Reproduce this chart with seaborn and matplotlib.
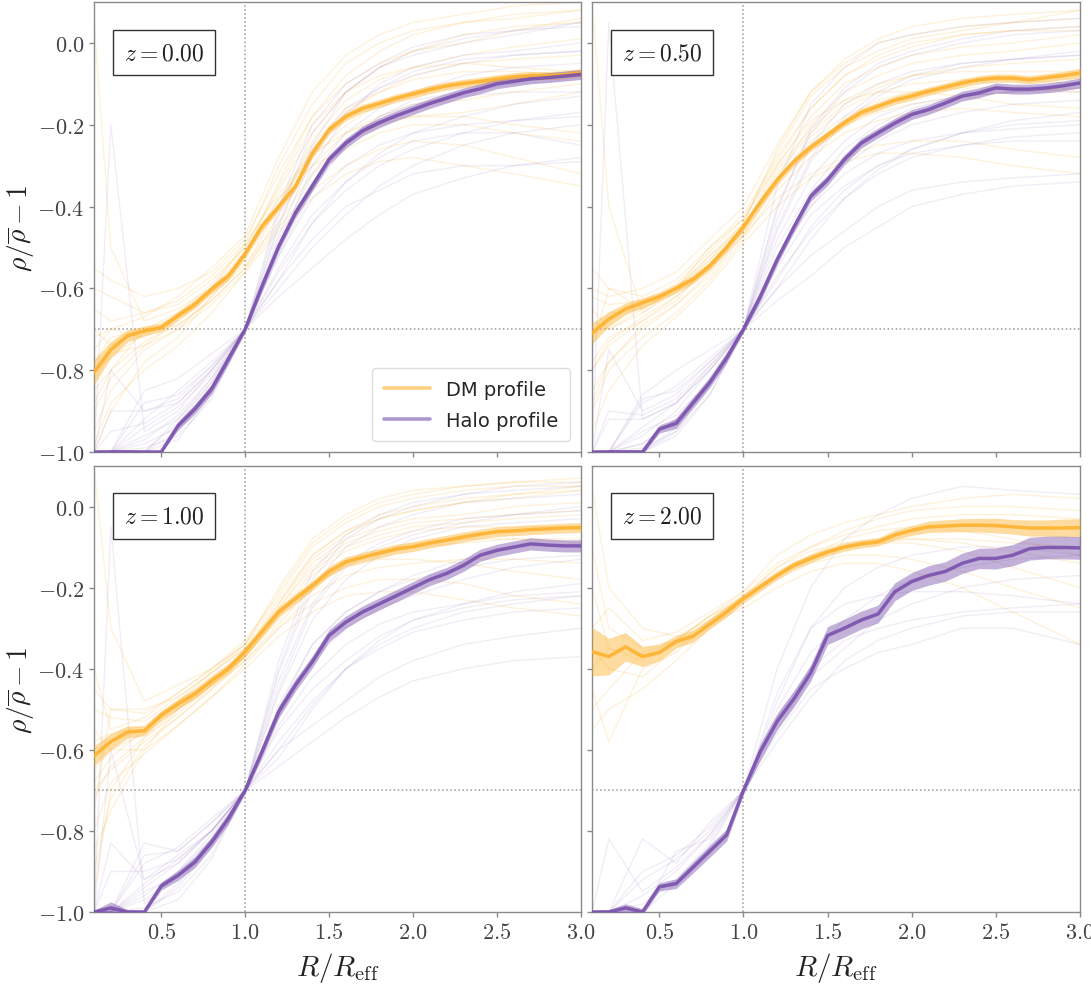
import numpy as np
import pandas as pd
import matplotlib
matplotlib.use("Agg")
import matplotlib.pyplot as plt
import seaborn as sns
from matplotlib.ticker import FuncFormatter, MultipleLocator
from matplotlib.lines import Line2D

# ---------------- data ----------------
R_GRID = [0.1, 0.2, 0.3, 0.4, 0.5, 0.6, 0.7, 0.8, 0.9, 1.0,
          1.1, 1.2, 1.3, 1.4, 1.5, 1.6, 1.7, 1.8, 1.9, 2.0,
          2.1, 2.2, 2.3, 2.4, 2.5, 2.6, 2.7, 2.8, 2.9, 3.0]
R_IND = [0.1, 0.2, 0.4, 0.6, 0.8, 1.0, 1.2, 1.4, 1.6, 1.8, 2.0, 2.3, 2.6, 3.0]
REDSHIFT_LABELS = ["0.00", "0.50", "1.00", "2.00"]
SERIES_NAMES = ["DM profile", "Halo profile"]

DM_MEAN_Z0 = [-0.805, -0.75, -0.716, -0.704, -0.696, -0.667, -0.639, -0.602, -0.57, -0.515,
              -0.448, -0.40, -0.35, -0.27, -0.212, -0.18, -0.16, -0.148, -0.135, -0.125,
              -0.114, -0.105, -0.099, -0.094, -0.088, -0.083, -0.08, -0.08, -0.078, -0.073]
HALO_MEAN_Z0 = [-1.0, -1.0, -1.0, -1.0, -1.0, -0.936, -0.895, -0.846, -0.773, -0.70,
                -0.595, -0.497, -0.415, -0.35, -0.285, -0.245, -0.215, -0.195, -0.178, -0.163,
                -0.148, -0.135, -0.122, -0.112, -0.10, -0.094, -0.088, -0.085, -0.081, -0.077]
DM_MEAN_Z05 = [-0.71, -0.675, -0.65, -0.635, -0.62, -0.60, -0.578, -0.545, -0.50, -0.449,
               -0.39, -0.335, -0.29, -0.255, -0.225, -0.195, -0.17, -0.155, -0.14, -0.13,
               -0.118, -0.108, -0.098, -0.09, -0.086, -0.086, -0.09, -0.085, -0.08, -0.074]
HALO_MEAN_Z05 = [-1.0, -1.0, -1.0, -1.0, -0.944, -0.93, -0.88, -0.83, -0.77, -0.70,
                 -0.62, -0.53, -0.45, -0.375, -0.335, -0.285, -0.245, -0.22, -0.196, -0.175,
                 -0.163, -0.147, -0.13, -0.122, -0.11, -0.113, -0.113, -0.11, -0.105, -0.098]
DM_MEAN_Z1 = [-0.615, -0.58, -0.556, -0.553, -0.515, -0.487, -0.462, -0.43, -0.40, -0.358,
              -0.309, -0.26, -0.227, -0.195, -0.16, -0.136, -0.125, -0.115, -0.105, -0.099,
              -0.09, -0.083, -0.075, -0.068, -0.062, -0.06, -0.057, -0.055, -0.053, -0.052]
HALO_MEAN_Z1 = [-1.0, -0.99, -1.0, -1.0, -0.936, -0.91, -0.877, -0.828, -0.77, -0.70,
                -0.605, -0.506, -0.44, -0.383, -0.318, -0.285, -0.26, -0.24, -0.22, -0.20,
                -0.18, -0.165, -0.145, -0.12, -0.108, -0.10, -0.092, -0.095, -0.097, -0.097]
DM_MEAN_Z2 = [-0.358, -0.37, -0.346, -0.37, -0.36, -0.333, -0.32, -0.29, -0.26, -0.227,
              -0.198, -0.17, -0.145, -0.128, -0.112, -0.10, -0.092, -0.087, -0.07, -0.059,
              -0.05, -0.048, -0.046, -0.046, -0.047, -0.05, -0.053, -0.053, -0.053, -0.052]
HALO_MEAN_Z2 = [-1.0, -1.0, -0.99, -1.0, -0.938, -0.93, -0.89, -0.85, -0.81, -0.70,
                -0.605, -0.53, -0.474, -0.41, -0.318, -0.30, -0.28, -0.265, -0.21, -0.185,
                -0.17, -0.16, -0.14, -0.128, -0.128, -0.12, -0.104, -0.101, -0.101, -0.102]

DM_ERR_Z0 = [0.03, 0.02, 0.015, 0.012, 0.01, 0.01, 0.01, 0.01, 0.01, 0.01,
             0.01, 0.01, 0.01, 0.01, 0.01, 0.01, 0.01, 0.01, 0.01, 0.01,
             0.01, 0.01, 0.01, 0.01, 0.01, 0.01, 0.01, 0.01, 0.01, 0.01]
HALO_ERR_Z0 = [0.004, 0.006, 0.006, 0.004, 0.004, 0.01, 0.012, 0.012, 0.012, 0.008,
               0.012, 0.012, 0.012, 0.012, 0.012, 0.012, 0.012, 0.012, 0.012, 0.012,
               0.012, 0.012, 0.012, 0.012, 0.012, 0.012, 0.012, 0.012, 0.012, 0.012]
DM_ERR_Z05 = [0.025, 0.018, 0.014, 0.012, 0.01, 0.01, 0.01, 0.01, 0.01, 0.01,
              0.01, 0.01, 0.01, 0.01, 0.01, 0.01, 0.01, 0.01, 0.01, 0.01,
              0.01, 0.01, 0.01, 0.01, 0.01, 0.01, 0.01, 0.01, 0.01, 0.012]
HALO_ERR_Z05 = [0.004, 0.006, 0.006, 0.006, 0.01, 0.012, 0.012, 0.012, 0.012, 0.008,
                0.012, 0.012, 0.012, 0.012, 0.012, 0.012, 0.012, 0.012, 0.012, 0.012,
                0.012, 0.012, 0.012, 0.012, 0.012, 0.012, 0.012, 0.012, 0.012, 0.012]
DM_ERR_Z1 = [0.025, 0.02, 0.015, 0.012, 0.012, 0.012, 0.012, 0.012, 0.012, 0.012,
             0.012, 0.012, 0.012, 0.012, 0.012, 0.012, 0.012, 0.012, 0.012, 0.012,
             0.012, 0.012, 0.012, 0.012, 0.012, 0.012, 0.012, 0.012, 0.012, 0.012]
HALO_ERR_Z1 = [0.004, 0.015, 0.006, 0.004, 0.01, 0.012, 0.013, 0.013, 0.013, 0.008,
               0.013, 0.015, 0.015, 0.015, 0.015, 0.015, 0.015, 0.015, 0.015, 0.015,
               0.015, 0.015, 0.015, 0.015, 0.015, 0.015, 0.015, 0.015, 0.015, 0.015]
DM_ERR_Z2 = [0.06, 0.045, 0.035, 0.025, 0.02, 0.015, 0.015, 0.012, 0.012, 0.01,
             0.01, 0.01, 0.01, 0.01, 0.01, 0.01, 0.01, 0.01, 0.012, 0.012,
             0.014, 0.015, 0.016, 0.017, 0.018, 0.018, 0.02, 0.02, 0.022, 0.022]
HALO_ERR_Z2 = [0.004, 0.006, 0.01, 0.008, 0.01, 0.012, 0.014, 0.015, 0.015, 0.01,
               0.02, 0.02, 0.02, 0.02, 0.022, 0.022, 0.022, 0.022, 0.022, 0.022,
               0.024, 0.024, 0.025, 0.025, 0.026, 0.026, 0.028, 0.028, 0.028, 0.028]

# individual profiles (sampled at R_IND)
DM_IND_Z0 = [
    [-0.60, -0.62, -0.66, -0.64, -0.58, -0.50, -0.36, -0.22, -0.12, -0.06, -0.02, 0.02, 0.04, 0.05],
    [-0.95, -0.85, -0.75, -0.70, -0.64, -0.56, -0.42, -0.30, -0.22, -0.18, -0.15, -0.14, -0.12, -0.10],
    [-0.75, -0.70, -0.72, -0.66, -0.60, -0.52, -0.34, -0.18, -0.10, -0.05, -0.02, 0.00, 0.03, 0.06],
    [-0.85, -0.80, -0.70, -0.69, -0.63, -0.55, -0.45, -0.36, -0.30, -0.26, -0.24, -0.25, -0.28, -0.32],
    [-1.00, -0.90, -0.78, -0.72, -0.62, -0.53, -0.40, -0.25, -0.16, -0.12, -0.08, -0.05, -0.04, -0.03],
    [0.05, -0.50, -0.68, -0.65, -0.60, -0.51, -0.38, -0.28, -0.20, -0.15, -0.12, -0.10, -0.09, -0.08],
    [-0.70, -0.74, -0.70, -0.67, -0.60, -0.49, -0.30, -0.15, -0.05, 0.00, 0.03, 0.05, 0.06, 0.08],
    [-0.82, -0.76, -0.74, -0.70, -0.62, -0.54, -0.44, -0.32, -0.24, -0.20, -0.18, -0.18, -0.20, -0.22],
    [-0.55, -0.58, -0.62, -0.60, -0.56, -0.48, -0.32, -0.18, -0.08, -0.02, 0.02, 0.05, 0.07, 0.08],
    [-0.90, -0.82, -0.74, -0.68, -0.61, -0.52, -0.40, -0.26, -0.17, -0.12, -0.09, -0.07, -0.07, -0.08],
    [-0.78, -0.72, -0.70, -0.66, -0.59, -0.50, -0.35, -0.20, -0.12, -0.08, -0.06, -0.05, -0.06, -0.07],
    [-0.65, -0.68, -0.66, -0.63, -0.57, -0.49, -0.37, -0.27, -0.22, -0.19, -0.18, -0.17, -0.15, -0.12],
    [-0.98, -0.88, -0.80, -0.74, -0.66, -0.56, -0.46, -0.38, -0.32, -0.29, -0.28, -0.30, -0.32, -0.35],
    [-0.72, -0.70, -0.67, -0.62, -0.55, -0.47, -0.28, -0.12, -0.03, 0.02, 0.05, 0.07, 0.09, 0.10],
    [-0.88, -0.80, -0.73, -0.69, -0.63, -0.55, -0.40, -0.24, -0.14, -0.09, -0.06, -0.03, -0.01, 0.01],
    [-0.80, -0.77, -0.71, -0.67, -0.61, -0.52, -0.38, -0.30, -0.26, -0.22, -0.20, -0.20, -0.22, -0.24],
]
HALO_IND_Z0 = [
    [-1.00, -1.00, -1.00, -0.92, -0.82, -0.70, -0.50, -0.30, -0.18, -0.10, -0.06, -0.03, -0.02, 0.00],
    [-1.00, -0.20, -0.95, -0.90, -0.80, -0.70, -0.55, -0.42, -0.34, -0.28, -0.24, -0.22, -0.22, -0.25],
    [-1.00, -1.00, -0.92, -0.85, -0.78, -0.70, -0.45, -0.25, -0.12, -0.06, -0.03, 0.00, 0.02, 0.05],
    [-1.00, -1.00, -1.00, -0.97, -0.86, -0.70, -0.58, -0.48, -0.40, -0.36, -0.32, -0.30, -0.30, -0.28],
    [-1.00, -0.80, -0.90, -0.88, -0.80, -0.70, -0.52, -0.36, -0.25, -0.18, -0.14, -0.12, -0.10, -0.09],
    [-1.00, -1.00, -0.98, -0.94, -0.84, -0.70, -0.48, -0.32, -0.22, -0.16, -0.12, -0.08, -0.06, -0.05],
    [-1.00, -1.00, -0.85, -0.82, -0.76, -0.70, -0.40, -0.20, -0.10, -0.05, -0.01, 0.02, 0.03, 0.04],
    [-1.00, -1.00, -1.00, -0.95, -0.85, -0.70, -0.60, -0.50, -0.42, -0.35, -0.30, -0.25, -0.22, -0.20],
    [-1.00, -1.00, -0.94, -0.89, -0.81, -0.70, -0.50, -0.34, -0.24, -0.18, -0.15, -0.13, -0.12, -0.12],
    [-1.00, -1.00, -0.97, -0.91, -0.82, -0.70, -0.44, -0.26, -0.16, -0.11, -0.08, -0.05, -0.03, -0.02],
    [-1.00, -0.90, -0.90, -0.87, -0.79, -0.70, -0.56, -0.44, -0.36, -0.30, -0.26, -0.22, -0.19, -0.17],
    [-1.00, -1.00, -1.00, -0.93, -0.83, -0.70, -0.47, -0.28, -0.17, -0.11, -0.07, -0.04, -0.03, -0.02],
    [-1.00, -1.00, -0.88, -0.86, -0.79, -0.70, -0.52, -0.38, -0.30, -0.25, -0.22, -0.20, -0.19, -0.18],
    [-1.00, -1.00, -0.99, -0.96, -0.87, -0.70, -0.58, -0.44, -0.34, -0.27, -0.22, -0.18, -0.15, -0.13],
    [-1.00, -0.95, -0.93, -0.88, -0.80, -0.70, -0.42, -0.22, -0.12, -0.06, -0.02, 0.01, 0.03, 0.05],
    [-1.00, -1.00, -0.96, -0.92, -0.83, -0.70, -0.62, -0.55, -0.48, -0.42, -0.37, -0.33, -0.30, -0.29],
]
DM_IND_Z05 = [
    [-0.55, -0.60, -0.62, -0.58, -0.50, -0.42, -0.28, -0.16, -0.08, -0.04, -0.01, 0.02, 0.03, 0.04],
    [-0.90, -0.80, -0.72, -0.66, -0.58, -0.48, -0.36, -0.28, -0.22, -0.19, -0.17, -0.16, -0.17, -0.18],
    [-0.70, -0.68, -0.64, -0.60, -0.52, -0.44, -0.26, -0.12, -0.05, 0.00, 0.02, 0.04, 0.05, 0.06],
    [-0.80, -0.74, -0.68, -0.62, -0.55, -0.47, -0.38, -0.32, -0.28, -0.25, -0.24, -0.24, -0.26, -0.28],
    [0.10, -0.40, -0.66, -0.61, -0.54, -0.45, -0.32, -0.22, -0.15, -0.11, -0.08, -0.06, -0.05, -0.04],
    [-0.65, -0.70, -0.66, -0.60, -0.50, -0.43, -0.30, -0.18, -0.10, -0.06, -0.03, -0.01, 0.00, 0.02],
    [-0.85, -0.78, -0.70, -0.64, -0.57, -0.47, -0.34, -0.24, -0.18, -0.14, -0.12, -0.11, -0.11, -0.12],
    [-0.75, -0.60, -0.65, -0.60, -0.52, -0.45, -0.33, -0.20, -0.12, -0.08, -0.05, -0.03, -0.02, 0.00],
    [-0.60, -0.62, -0.60, -0.56, -0.48, -0.40, -0.25, -0.12, -0.04, 0.01, 0.04, 0.06, 0.07, 0.08],
    [-0.88, -0.78, -0.69, -0.64, -0.56, -0.47, -0.34, -0.23, -0.16, -0.12, -0.10, -0.09, -0.09, -0.10],
    [-0.72, -0.66, -0.65, -0.61, -0.53, -0.45, -0.30, -0.19, -0.14, -0.12, -0.12, -0.13, -0.15, -0.16],
    [-0.62, -0.64, -0.63, -0.59, -0.51, -0.43, -0.29, -0.16, -0.08, -0.03, 0.00, 0.02, 0.03, 0.03],
    [-0.95, -0.85, -0.74, -0.67, -0.59, -0.49, -0.40, -0.33, -0.29, -0.27, -0.27, -0.28, -0.30, -0.32],
    [-0.68, -0.70, -0.65, -0.60, -0.53, -0.44, -0.27, -0.13, -0.06, -0.02, 0.01, 0.03, 0.05, 0.08],
    [-0.80, -0.73, -0.67, -0.62, -0.55, -0.46, -0.35, -0.26, -0.20, -0.17, -0.15, -0.13, -0.12, -0.11],
    [-0.78, -0.72, -0.68, -0.63, -0.54, -0.46, -0.31, -0.21, -0.14, -0.10, -0.08, -0.07, -0.07, -0.07],
]
HALO_IND_Z05 = [
    [-1.00, -1.00, -0.96, -0.90, -0.80, -0.70, -0.45, -0.28, -0.18, -0.12, -0.08, -0.05, -0.04, -0.02],
    [-1.00, 0.05, -0.92, -0.88, -0.79, -0.70, -0.55, -0.42, -0.35, -0.30, -0.27, -0.25, -0.24, -0.24],
    [-1.00, -1.00, -0.88, -0.84, -0.77, -0.70, -0.40, -0.22, -0.12, -0.06, -0.03, 0.00, 0.02, 0.03],
    [-1.00, -1.00, -1.00, -0.95, -0.84, -0.70, -0.60, -0.52, -0.46, -0.40, -0.36, -0.34, -0.33, -0.32],
    [-1.00, -0.75, -0.90, -0.86, -0.78, -0.70, -0.50, -0.36, -0.26, -0.20, -0.16, -0.13, -0.12, -0.11],
    [-1.00, -1.00, -0.98, -0.92, -0.82, -0.70, -0.52, -0.40, -0.30, -0.24, -0.20, -0.17, -0.15, -0.14],
    [-1.00, -1.00, -0.86, -0.80, -0.75, -0.70, -0.35, -0.15, -0.06, 0.00, 0.02, 0.04, 0.05, 0.06],
    [-1.00, -1.00, -1.00, -0.96, -0.86, -0.70, -0.58, -0.45, -0.36, -0.30, -0.26, -0.22, -0.20, -0.19],
    [-1.00, -1.00, -0.94, -0.88, -0.80, -0.70, -0.48, -0.33, -0.24, -0.18, -0.15, -0.13, -0.12, -0.12],
    [-1.00, -1.00, -0.98, -0.92, -0.82, -0.70, -0.43, -0.25, -0.15, -0.10, -0.07, -0.05, -0.04, -0.03],
    [-1.00, -0.90, -0.91, -0.87, -0.79, -0.70, -0.57, -0.46, -0.38, -0.32, -0.28, -0.25, -0.23, -0.22],
    [-1.00, -1.00, -1.00, -0.94, -0.83, -0.70, -0.46, -0.29, -0.19, -0.13, -0.09, -0.06, -0.04, -0.03],
    [-1.00, -1.00, -0.87, -0.85, -0.78, -0.70, -0.53, -0.40, -0.32, -0.27, -0.24, -0.22, -0.21, -0.20],
    [-1.00, -1.00, -0.99, -0.95, -0.86, -0.70, -0.60, -0.48, -0.38, -0.31, -0.26, -0.22, -0.19, -0.17],
    [-1.00, -0.92, -0.92, -0.88, -0.80, -0.70, -0.41, -0.21, -0.11, -0.05, -0.02, 0.01, 0.03, 0.04],
    [-1.00, -1.00, -0.95, -0.91, -0.83, -0.70, -0.63, -0.57, -0.50, -0.45, -0.40, -0.37, -0.35, -0.34],
]
DM_IND_Z1 = [
    [-0.40, -0.55, -0.52, -0.46, -0.40, -0.33, -0.22, -0.10, -0.04, 0.00, 0.02, 0.04, 0.05, 0.05],
    [-0.85, -0.75, -0.60, -0.54, -0.47, -0.39, -0.30, -0.22, -0.17, -0.15, -0.14, -0.13, -0.13, -0.14],
    [0.10, -0.30, -0.48, -0.44, -0.40, -0.34, -0.20, -0.08, -0.02, 0.02, 0.04, 0.05, 0.06, 0.07],
    [-0.70, -0.65, -0.58, -0.52, -0.45, -0.38, -0.30, -0.24, -0.20, -0.18, -0.18, -0.19, -0.22, -0.24],
    [-0.60, -0.58, -0.55, -0.48, -0.42, -0.36, -0.26, -0.16, -0.10, -0.07, -0.05, -0.04, -0.03, -0.02],
    [-0.95, -0.70, -0.57, -0.50, -0.43, -0.36, -0.24, -0.12, -0.06, -0.03, -0.01, 0.01, 0.02, 0.04],
    [-0.55, -0.60, -0.60, -0.50, -0.44, -0.37, -0.28, -0.20, -0.14, -0.11, -0.10, -0.09, -0.08, -0.08],
    [-0.75, -0.50, -0.50, -0.47, -0.41, -0.35, -0.25, -0.14, -0.08, -0.05, -0.03, -0.02, 0.00, 0.01],
    [-0.50, -0.52, -0.53, -0.47, -0.41, -0.34, -0.23, -0.12, -0.06, -0.02, 0.00, 0.02, 0.03, 0.04],
    [-0.90, -0.72, -0.59, -0.52, -0.45, -0.38, -0.29, -0.20, -0.14, -0.11, -0.09, -0.08, -0.08, -0.09],
    [-0.65, -0.60, -0.56, -0.50, -0.44, -0.37, -0.27, -0.19, -0.15, -0.13, -0.13, -0.14, -0.16, -0.18],
    [-0.45, -0.50, -0.51, -0.46, -0.40, -0.34, -0.21, -0.09, -0.03, 0.01, 0.03, 0.05, 0.06, 0.06],
    [-0.80, -0.68, -0.61, -0.54, -0.47, -0.40, -0.32, -0.26, -0.22, -0.21, -0.21, -0.23, -0.25, -0.27],
    [-0.58, -0.56, -0.54, -0.48, -0.41, -0.35, -0.24, -0.13, -0.07, -0.03, -0.01, 0.01, 0.03, 0.05],
    [-0.72, -0.64, -0.57, -0.51, -0.44, -0.37, -0.27, -0.17, -0.11, -0.08, -0.06, -0.05, -0.05, -0.05],
    [-0.68, -0.62, -0.55, -0.49, -0.43, -0.36, -0.25, -0.15, -0.09, -0.06, -0.04, -0.03, -0.02, -0.01],
]
HALO_IND_Z1 = [
    [-1.00, -1.00, -0.94, -0.88, -0.80, -0.70, -0.45, -0.25, -0.15, -0.10, -0.07, -0.04, -0.02, 0.00],
    [-1.00, -0.05, -0.98, -0.90, -0.82, -0.70, -0.55, -0.45, -0.38, -0.32, -0.28, -0.25, -0.23, -0.22],
    [-1.00, -1.00, -0.83, -0.85, -0.78, -0.70, -0.40, -0.18, -0.08, -0.03, 0.00, 0.03, 0.05, 0.06],
    [-1.00, -1.00, -1.00, -0.94, -0.84, -0.70, -0.60, -0.54, -0.48, -0.42, -0.38, -0.34, -0.32, -0.30],
    [-1.00, -0.60, -0.92, -0.86, -0.80, -0.70, -0.50, -0.34, -0.26, -0.21, -0.17, -0.13, -0.10, -0.09],
    [-1.00, -1.00, -0.96, -0.90, -0.81, -0.70, -0.52, -0.38, -0.30, -0.25, -0.22, -0.18, -0.15, -0.13],
    [-1.00, -1.00, -0.88, -0.84, -0.77, -0.70, -0.38, -0.16, -0.07, -0.02, 0.01, 0.03, 0.04, 0.05],
    [-1.00, -1.00, -1.00, -0.97, -0.87, -0.70, -0.62, -0.50, -0.40, -0.34, -0.30, -0.26, -0.24, -0.22],
    [-1.00, -1.00, -0.93, -0.87, -0.80, -0.70, -0.49, -0.34, -0.26, -0.21, -0.18, -0.15, -0.13, -0.12],
    [-1.00, -1.00, -0.97, -0.91, -0.82, -0.70, -0.43, -0.24, -0.14, -0.09, -0.06, -0.03, -0.02, -0.01],
    [-1.00, -0.83, -0.92, -0.88, -0.80, -0.70, -0.58, -0.48, -0.40, -0.35, -0.31, -0.28, -0.26, -0.25],
    [-1.00, -1.00, -1.00, -0.93, -0.83, -0.70, -0.46, -0.28, -0.18, -0.12, -0.08, -0.05, -0.04, -0.03],
    [-1.00, -1.00, -0.86, -0.85, -0.78, -0.70, -0.54, -0.42, -0.34, -0.29, -0.26, -0.24, -0.22, -0.21],
    [-1.00, -1.00, -0.99, -0.95, -0.86, -0.70, -0.60, -0.49, -0.40, -0.33, -0.28, -0.24, -0.21, -0.19],
    [-1.00, -0.90, -0.90, -0.87, -0.80, -0.70, -0.41, -0.20, -0.10, -0.05, -0.02, 0.01, 0.02, 0.03],
    [-1.00, -1.00, -0.95, -0.91, -0.83, -0.70, -0.64, -0.58, -0.52, -0.47, -0.43, -0.40, -0.38, -0.37],
]
DM_IND_Z2 = [
    [-0.10, -0.30, -0.35, -0.33, -0.27, -0.21, -0.14, -0.10, -0.07, -0.05, -0.03, -0.02, -0.02, -0.03],
    [-0.55, -0.50, -0.45, -0.38, -0.30, -0.24, -0.18, -0.14, -0.12, -0.12, -0.13, -0.16, -0.20, -0.25],
    [0.05, -0.20, -0.30, -0.32, -0.28, -0.22, -0.15, -0.10, -0.06, -0.03, -0.01, 0.00, 0.00, -0.01],
    [-0.45, -0.58, -0.40, -0.36, -0.28, -0.23, -0.17, -0.13, -0.10, -0.09, -0.09, -0.11, -0.15, -0.20],
    [-0.35, -0.40, -0.42, -0.35, -0.29, -0.25, -0.20, -0.16, -0.14, -0.14, -0.16, -0.20, -0.26, -0.34],
    [-0.30, -0.25, -0.33, -0.31, -0.26, -0.21, -0.12, -0.07, -0.04, -0.02, 0.00, 0.02, 0.03, 0.02],
    [-0.20, -0.35, -0.38, -0.34, -0.28, -0.22, -0.15, -0.11, -0.09, -0.08, -0.08, -0.09, -0.11, -0.14],
    [-0.50, -0.45, -0.36, -0.33, -0.27, -0.22, -0.16, -0.12, -0.10, -0.09, -0.08, -0.08, -0.09, -0.10],
    [-0.40, -0.35, -0.37, -0.33, -0.27, -0.23, -0.17, -0.12, -0.08, -0.06, -0.05, -0.06, -0.08, -0.12],
]
HALO_IND_Z2 = [
    [-1.00, -1.00, -0.90, -0.86, -0.79, -0.70, -0.48, -0.30, -0.20, -0.15, -0.12, -0.10, -0.10, -0.12],
    [-1.00, -1.00, -1.00, -0.93, -0.84, -0.70, -0.56, -0.45, -0.40, -0.36, -0.34, -0.30, -0.30, -0.34],
    [-1.00, -1.00, -0.82, -0.88, -0.78, -0.70, -0.40, -0.20, -0.08, -0.02, 0.02, 0.05, 0.04, 0.03],
    [-1.00, -1.00, -0.96, -0.90, -0.81, -0.70, -0.52, -0.40, -0.33, -0.30, -0.28, -0.26, -0.25, -0.24],
    [-1.00, -1.00, -1.00, -0.85, -0.82, -0.70, -0.55, -0.42, -0.35, -0.28, -0.24, -0.20, -0.18, -0.17],
    [-1.00, -1.00, -0.92, -0.87, -0.80, -0.70, -0.46, -0.30, -0.24, -0.22, -0.21, -0.21, -0.22, -0.24],
    [-1.00, -0.82, -0.95, -0.89, -0.81, -0.70, -0.50, -0.36, -0.28, -0.22, -0.18, -0.15, -0.13, -0.12],
    [-1.00, -1.00, -0.98, -0.92, -0.83, -0.70, -0.58, -0.47, -0.38, -0.33, -0.30, -0.27, -0.26, -0.26],
]

PANELS = [
    (DM_MEAN_Z0, DM_ERR_Z0, DM_IND_Z0, HALO_MEAN_Z0, HALO_ERR_Z0, HALO_IND_Z0),
    (DM_MEAN_Z05, DM_ERR_Z05, DM_IND_Z05, HALO_MEAN_Z05, HALO_ERR_Z05, HALO_IND_Z05),
    (DM_MEAN_Z1, DM_ERR_Z1, DM_IND_Z1, HALO_MEAN_Z1, HALO_ERR_Z1, HALO_IND_Z1),
    (DM_MEAN_Z2, DM_ERR_Z2, DM_IND_Z2, HALO_MEAN_Z2, HALO_ERR_Z2, HALO_IND_Z2),
]

# ---------------- style ----------------
sns.set_theme(style="ticks")
plt.rcParams["font.family"] = ["DejaVu Sans"]
plt.rcParams["mathtext.fontset"] = "cm"
plt.rcParams["axes.edgecolor"] = "#8a8a8a"
plt.rcParams["axes.linewidth"] = 1.0
plt.rcParams["xtick.color"] = "#8a8a8a"
plt.rcParams["ytick.color"] = "#8a8a8a"
plt.rcParams["xtick.labelcolor"] = "#444444"
plt.rcParams["ytick.labelcolor"] = "#444444"

C_DM = "#FDB22E"
C_HALO = "#7A52AD"

fig = plt.figure(figsize=(10.91, 9.87), dpi=100)
W, H = 1091.0, 987.0
boxes = [(94, 3, 581, 453), (592, 3, 1080, 453), (94, 467, 581, 913), (592, 467, 1080, 913)]
axes = []
for (l, t, r, b) in boxes:
    ax = fig.add_axes([l / W, 1 - b / H, (r - l) / W, (b - t) / H])
    axes.append(ax)

fmt = FuncFormatter(lambda v, p: r"$%.1f$" % v)


def long_frame(profiles, tag):
    rows = []
    for k, prof in enumerate(profiles):
        for r, v in zip(R_IND, prof):
            rows.append(("%s%d" % (tag, k), r, v))
    return pd.DataFrame(rows, columns=["unit", "R", "val"])


for i, ax in enumerate(axes):
    dm_mean, dm_err, dm_ind, h_mean, h_err, h_ind = PANELS[i]

    sns.lineplot(data=long_frame(dm_ind, "dm"), x="R", y="val", units="unit", estimator=None,
                 color=C_DM, alpha=0.17, lw=1.0, ax=ax, legend=False)
    sns.lineplot(data=long_frame(h_ind, "h"), x="R", y="val", units="unit", estimator=None,
                 color=C_HALO, alpha=0.10, lw=1.0, ax=ax, legend=False)

    ax.axvline(1.0, color="#999999", ls=":", lw=1.1, zorder=1)
    ax.axhline(-0.7, color="#999999", ls=":", lw=1.1, zorder=1)

    for mean, err, col in [(dm_mean, dm_err, C_DM), (h_mean, h_err, C_HALO)]:
        m = np.array(mean)
        e = np.array(err)
        ax.fill_between(R_GRID, m - e, m + e, color=col, alpha=0.45, lw=0, zorder=4)
        sns.lineplot(x=R_GRID, y=mean, color=col, lw=2.5, alpha=0.9, ax=ax, zorder=5)

    ax.set_xlim(0.1, 3.0)
    ax.set_ylim(-1.0, 0.1)
    ax.xaxis.set_major_locator(MultipleLocator(0.5))
    ax.yaxis.set_major_locator(MultipleLocator(0.2))
    ax.xaxis.set_major_formatter(fmt)
    ax.yaxis.set_major_formatter(fmt)
    ax.tick_params(length=3.5, width=1.0, labelsize=16)
    for s in ax.spines.values():
        s.set_visible(True)

    if i < 2:
        ax.tick_params(labelbottom=False)
        ax.set_xlabel("")
    else:
        ax.set_xlabel(r"$R/R_{\rm eff}$", fontsize=21, color="#222222", labelpad=6)
    if i % 2 == 1:
        ax.tick_params(labelleft=False)
        ax.set_ylabel("")
    else:
        ax.set_ylabel(r"$\rho/\overline{\rho} - 1$", fontsize=20, color="#222222", labelpad=1)

    ax.text(0.144, 0.888, r"$z = %s$" % REDSHIFT_LABELS[i], transform=ax.transAxes,
            ha="center", va="center", fontsize=17, color="#222222", zorder=10,
            bbox=dict(boxstyle="square,pad=0.45", fc="white", ec="#333333", lw=1.0))

handles = [Line2D([], [], color=C_DM, lw=2.6, alpha=0.6),
           Line2D([], [], color=C_HALO, lw=2.6, alpha=0.6)]
axes[0].legend(handles, SERIES_NAMES, loc="lower right", bbox_to_anchor=(0.977, 0.024),
               borderaxespad=0, fontsize=14, handlelength=2.4, frameon=True,
               framealpha=1.0, edgecolor="#dddddd", fancybox=True, borderpad=0.6,
               labelspacing=0.6)

fig.savefig("out.png", dpi=100)
